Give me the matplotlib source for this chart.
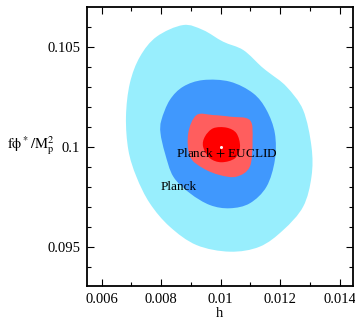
import matplotlib
matplotlib.use("Agg")
import matplotlib.pyplot as plt
import numpy as np
from matplotlib.path import Path
from matplotlib.patches import PathPatch
from matplotlib.ticker import MultipleLocator

plt.rcParams['font.family'] = ['Liberation Serif', 'DejaVu Serif']
plt.rcParams['mathtext.fontset'] = 'stix'

# contour outlines (h, f phi*/Mp^2)
planck_2s_h = [0.00874, 0.00785, 0.00729, 0.00695, 0.00682, 0.0069, 0.00717, 0.00762, 0.00829,
               0.00919, 0.01031, 0.01131, 0.0121, 0.01277, 0.01305, 0.01305, 0.01277, 0.01221,
               0.01165, 0.01137, 0.01076, 0.01008, 0.00941]
planck_2s_f = [0.10608, 0.1055, 0.1045, 0.10317, 0.1015, 0.09983, 0.0985, 0.09717, 0.096,
               0.09508, 0.09475, 0.095, 0.09583, 0.097, 0.0985, 0.1, 0.10183, 0.103,
               0.10367, 0.104, 0.10483, 0.10525, 0.10583]

planck_1s_h = [0.00941, 0.00874, 0.00829, 0.00801, 0.00798, 0.00813, 0.00841, 0.00897, 0.00964,
               0.01031, 0.01098, 0.01154, 0.01182, 0.01182, 0.01154, 0.01109, 0.01031]
planck_1s_f = [0.10333, 0.103, 0.10233, 0.10133, 0.10067, 0.09967, 0.0985, 0.09767, 0.09708,
               0.09692, 0.09717, 0.098, 0.09933, 0.10067, 0.10183, 0.10267, 0.10325]

euclid_2s_h = [0.00919, 0.00891, 0.00897, 0.00941, 0.00997, 0.01053, 0.01098, 0.01107, 0.01098,
               0.01031, 0.00975]
euclid_2s_f = [0.10158, 0.10067, 0.0995, 0.09892, 0.09858, 0.0985, 0.099, 0.10033, 0.10133,
               0.1015, 0.10158]

euclid_1s_h = [0.00975, 0.00947, 0.00941, 0.00964, 0.01003, 0.01048, 0.01065, 0.01053, 0.0102]
euclid_1s_f = [0.10092, 0.1005, 0.1, 0.09942, 0.09922, 0.09942, 0.1, 0.10067, 0.10095]

fiducial_h = [0.01]
fiducial_f = [0.1]


def smooth_blob(xs, ys, color):
    # closed bezier through the traced points
    p = np.column_stack([xs, ys])
    n = len(p)
    verts = [p[0]]
    codes = [Path.MOVETO]
    for i in range(n):
        p0, p1, p2, p3 = p[i - 1], p[i], p[(i + 1) % n], p[(i + 2) % n]
        verts += [p1 + (p2 - p0) / 6, p2 - (p3 - p1) / 6, p2]
        codes += [Path.CURVE4] * 3
    return PathPatch(Path(verts, codes), facecolor=color, lw=0)


fig = plt.figure(figsize=(3.55, 3.2), dpi=100)
ax = fig.add_axes([0.245, 0.106, 0.749, 0.872])

ax.add_patch(smooth_blob(planck_2s_h, planck_2s_f, '#98eefd'))
ax.add_patch(smooth_blob(planck_1s_h, planck_1s_f, '#4098fd'))
ax.add_patch(smooth_blob(euclid_2s_h, euclid_2s_f, '#ff5e5e'))
ax.add_patch(smooth_blob(euclid_1s_h, euclid_1s_f, '#ff0000'))
ax.plot(fiducial_h, fiducial_f, 'o', color='white', ms=1.2, zorder=3)

ax.text(0.00849, 0.0997, r'Planck $+$ EUCLID', fontsize=9.5, va='center', zorder=4)
ax.text(0.00798, 0.098, 'Planck', fontsize=9.5, va='center', zorder=4)

ax.set_xlim(0.00551, 0.01444)
ax.set_ylim(0.09303, 0.10698)
ax.xaxis.set_major_locator(MultipleLocator(0.002))
ax.xaxis.set_minor_locator(MultipleLocator(0.001))
ax.yaxis.set_major_locator(MultipleLocator(0.005))
ax.yaxis.set_minor_locator(MultipleLocator(0.001))
ax.xaxis.set_major_formatter(plt.FuncFormatter(lambda v, p: f'{v:g}'))
ax.yaxis.set_major_formatter(plt.FuncFormatter(lambda v, p: f'{v:g}'))
ax.tick_params(which='both', direction='in', top=True, right=True, labelsize=10.5, width=0.8)
ax.tick_params(which='major', length=5, pad=5)
ax.tick_params(which='minor', length=3)
for s in ax.spines.values():
    s.set_linewidth(1.3)

ax.set_xlabel('h', fontsize=10.5, labelpad=1)
fig.text(0.02, 0.545, r'$\mathrm{f\phi^*/M_p^2}$', fontsize=10.5, va='center')

fig.savefig('out.png', dpi=100)
